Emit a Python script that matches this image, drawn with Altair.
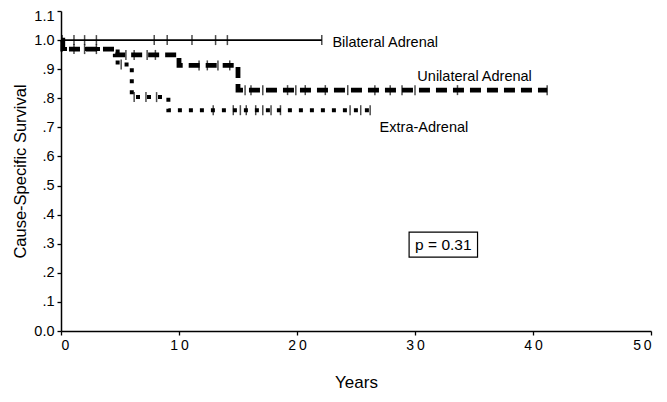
import altair as alt
import pandas as pd

# ---- data ----
bil_times = [0, 22.1]
bil_surv = [1.0, 1.0]
bil_cens = [0.1, 1.1, 2.0, 3.0, 7.9, 9.0, 11.1, 13.1, 14.1, 22.1]

uni_times = [0, 0.15, 4.6, 10.0, 15.0, 41.2]
uni_surv = [1.0, 0.969, 0.949, 0.913, 0.828, 0.828]
uni_cens = [1.1, 2.0, 3.0, 5.5, 6.2, 7.3, 8.0, 11.7, 12.4, 13.3, 14.3, 15.6, 16.1,
            17.1, 19.2, 19.9, 20.7, 22.4, 24.3, 26.6, 27.9, 28.9, 30.0, 33.6, 41.2]

ext_times = [0, 0.15, 4.8, 6.0, 9.1, 26.2]
ext_surv = [1.0, 0.969, 0.916, 0.804, 0.759, 0.759]
ext_cens = [5.1, 6.2, 7.2, 8.1, 12.9, 14.6, 15.2, 15.7, 16.5, 17.1, 17.8, 18.6,
            24.5, 25.4, 26.2]

label_text = ["Bilateral Adrenal", "Unilateral Adrenal", "Extra-Adrenal"]
label_x = [23.0, 30.2, 27.0]
label_y = [0.991, 0.872, 0.698]

p_text = "p = 0.31"
p_box_x = [29.5, 35.3]
p_box_y = [0.254, 0.340]

x_ticks = [0, 10, 20, 30, 40, 50]
y_ticks = [0.0, 0.1, 0.2, 0.3, 0.4, 0.5, 0.6, 0.7, 0.8, 0.9, 1.0, 1.1]


def surv_at(t, times, surv):
    v = surv[0]
    for tt, ss in zip(times, surv):
        if tt <= t:
            v = ss
    return v


curves = {
    "Bilateral": (bil_times, bil_surv, bil_cens),
    "Unilateral": (uni_times, uni_surv, uni_cens),
    "Extra": (ext_times, ext_surv, ext_cens),
}

line_rows, cens_rows = [], []
for g, (tm, sv, cs) in curves.items():
    for t, s in zip(tm, sv):
        line_rows.append({"group": g, "t": t, "s": s})
    for c in cs:
        cens_rows.append({"group": g, "t": c, "s": surv_at(c, tm, sv)})
lines_df = pd.DataFrame(line_rows)
cens_df = pd.DataFrame(cens_rows)
labels_df = pd.DataFrame({"text": label_text, "t": label_x, "s": label_y})
pbox_df = pd.DataFrame({"x1": [p_box_x[0]], "x2": [p_box_x[1]],
                        "y1": [p_box_y[0]], "y2": [p_box_y[1]],
                        "xc": [sum(p_box_x) / 2], "yc": [sum(p_box_y) / 2],
                        "text": [p_text]})

FONT = "Liberation Sans"

xscale = alt.Scale(domain=[0, 50], nice=False, zero=False)
yscale = alt.Scale(domain=[0, 1.1], nice=False)

xax = alt.Axis(values=x_ticks, tickCount=20, title="Years", grid=False, labelOverlap=False,
               labelExpr="join(split(toString(datum.value), ''), '\u2009')",
               labelFontSize=14, titleFontSize=17, titleFontWeight="normal",
               titlePadding=22, tickSize=4, labelPadding=3)
yax = alt.Axis(values=y_ticks, tickCount=30, title="Cause-Specific Survival", grid=False,
               labelOverlap=False,
               labelOffset={"condition": {"test": "datum.value > 1.05", "value": 5}, "value": 0},
               labelExpr="(datum.value >= 1 || datum.value == 0) ? format(datum.value, '.1f') : slice(format(datum.value, '.1f'), 1)",
               labelFontSize=14.5, titleFontSize=16.5, titleFontWeight="normal",
               titlePadding=5, tickSize=4, labelPadding=3)

base_x = alt.X("t:Q", scale=xscale, axis=xax)
base_y = alt.Y("s:Q", scale=yscale, axis=yax)


def line_for(g, **kw):
    return alt.Chart(lines_df).transform_filter(alt.datum.group == g).mark_line(
        interpolate="step-after", color="black", **kw
    ).encode(x=base_x, y=base_y)


bil_line = line_for("Bilateral", strokeWidth=1.6)
uni_line = line_for("Unilateral", strokeWidth=4.8, strokeDash=[11, 6], strokeCap="butt")
ext_line = line_for("Extra", strokeWidth=4, strokeDash=[4, 7], strokeCap="butt")

cens = alt.Chart(cens_df).mark_tick(orient="vertical", color="black", size=10,
                                    thickness=1.5).encode(
    x=alt.X("t:Q", scale=xscale), y=alt.Y("s:Q", scale=yscale))

labels = alt.Chart(labels_df).mark_text(align="left", baseline="middle", font=FONT,
                                        fontSize=14.5, color="black").encode(
    x=alt.X("t:Q", scale=xscale), y=alt.Y("s:Q", scale=yscale), text="text:N")

pbox = alt.Chart(pbox_df).mark_rect(fill="white", stroke="black", strokeWidth=1.2).encode(
    x=alt.X("x1:Q", scale=xscale), x2="x2:Q",
    y=alt.Y("y1:Q", scale=yscale), y2="y2:Q")
ptext = alt.Chart(pbox_df).mark_text(align="center", baseline="middle", font=FONT,
                                     fontSize=15.5, color="black").encode(
    x=alt.X("xc:Q", scale=xscale), y=alt.Y("yc:Q", scale=yscale), text="text:N")

chart = alt.layer(bil_line, uni_line, ext_line, cens, labels, pbox, ptext).properties(
    width=590, height=320,
    autosize=alt.AutoSizeParams(type="none"),
    padding={"left": 53, "top": 3, "right": 8, "bottom": 62},
    background="white",
).configure_view(stroke=None).configure_axis(
    domainColor="black", domainWidth=1.5, tickColor="black", tickWidth=1.3,
    labelColor="black", titleColor="black", labelFont=FONT, titleFont=FONT,
)

chart.save("out.html", embed_options={"renderer": "svg", "actions": False})
